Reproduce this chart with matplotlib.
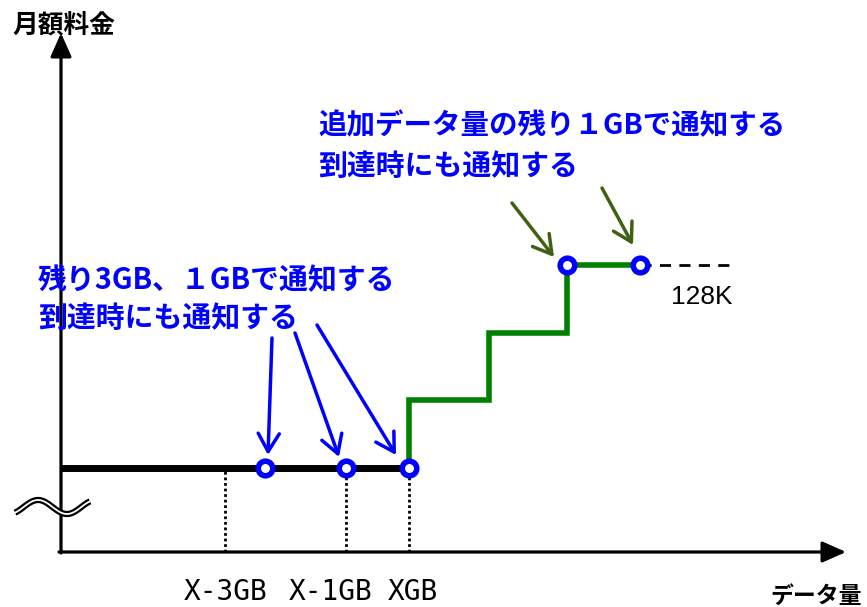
import numpy as np
import matplotlib
matplotlib.use('Agg')
import matplotlib.pyplot as plt

plt.rcParams['font.family'] = ['Noto Sans CJK JP', 'DejaVu Sans']

# data (origin at the axes crossing)
base_fee = 84
tick_pos = [164, 285, 348]
tick_labels = ['X-3GB', 'X-1GB', 'XGB']
step_x = [348, 348, 428, 428, 506, 506, 579]
step_y = [84, 152, 152, 219, 219, 287, 287]
dash_x = [579, 674]
dash_y = [287, 287]
notify_x = [204, 285, 348, 506, 579]
notify_y = [84, 84, 84, 287, 287]

blue_arrows = [((211, 214), (207, 97)), ((234, 219), (278, 95)), ((256, 227), (335, 97))]
green_arrows = [((451, 349), (493, 295)), ((541, 364), (572, 307))]

blue = '#0000ff'
green = '#008000'
olive = '#3f6212'

fig = plt.figure(figsize=(8.67, 6.07), dpi=100)
ax = fig.add_axes([0, 0, 1, 1])
ax.set_xlim(-61, 806)
ax.set_ylim(-55, 552)
ax.axis('off')

# axes with arrow heads
ax.annotate('', xy=(0, 519), xytext=(0, -1),
            arrowprops=dict(arrowstyle='-|>,head_length=0.9,head_width=0.4', lw=2.3,
                            color='black', shrinkA=0, shrinkB=0, mutation_scale=16))
ax.annotate('', xy=(785, 0), xytext=(-2, 0),
            arrowprops=dict(arrowstyle='-|>,head_length=0.9,head_width=0.4', lw=2.3,
                            color='black', shrinkA=0, shrinkB=0, mutation_scale=16))

# wavy break mark
t = np.linspace(-0.3 * np.pi, 2.3 * np.pi, 100)
wx = np.linspace(-46, 29, 100)
wy = 45 + 7 * np.sin(t)
ax.plot(wx, wy, color='black', lw=4.5, solid_capstyle='butt', zorder=3)
ax.plot(wx, wy, color='white', lw=1.3, zorder=4)

# dotted guides
for x in tick_pos:
    ax.plot([x, x], [0, base_fee], color='black', lw=2, ls=(0, (1, 1)), zorder=2)

# base fee line
ax.plot([0, tick_pos[-1]], [base_fee, base_fee], color='black', lw=5,
        solid_capstyle='butt', zorder=5)

# step line after XGB
ax.plot(step_x, step_y, color=green, lw=4, solid_joinstyle='miter', zorder=5)
ax.plot(dash_x, dash_y, color='black', lw=2, ls=(0, (4, 3)), zorder=4)

# notification points
ax.plot(notify_x, notify_y, 'o', ms=10.5, mfc='white', mec=blue, mew=4, zorder=6)

for (x0, y0), (x1, y1) in blue_arrows:
    ax.annotate('', xy=(x1, y1), xytext=(x0, y0),
                arrowprops=dict(arrowstyle='->,head_length=0.65,head_width=0.38', lw=2.5,
                                color=blue, shrinkA=0, shrinkB=0, mutation_scale=20))
for (x0, y0), (x1, y1) in green_arrows:
    ax.annotate('', xy=(x1, y1), xytext=(x0, y0),
                arrowprops=dict(arrowstyle='->,head_length=0.65,head_width=0.38', lw=2.5,
                                color=olive, shrinkA=0, shrinkB=0, mutation_scale=20))

# texts
ax.text(-49, 527, '月額料金', fontsize=18.5, fontweight='bold', va='center', ha='left')
ax.text(709, -44, 'データ量', fontsize=16.5, fontweight='bold', va='center', ha='left')
ax.text(257, 426, '追加データ量の残り１GBで通知する', fontsize=20.5, fontweight='bold',
        color=blue, va='center', ha='left')
ax.text(257, 386, '到達時にも通知する', fontsize=20.8, fontweight='bold',
        color=blue, va='center', ha='left')
ax.text(-23, 272, '残り3GB、１GBで通知する', fontsize=20.8, fontweight='bold',
        color=blue, va='center', ha='left')
ax.text(-23, 234, '到達時にも通知する', fontsize=20.8, fontweight='bold',
        color=blue, va='center', ha='left')
for x, lab in zip([165, 270, 352], tick_labels):
    ax.text(x, -40, lab, fontsize=20, va='center', ha='center', family='DejaVu Sans Mono')
ax.text(641, 255, '128K', fontsize=19, va='center', ha='center', family='Liberation Sans')

fig.savefig('out.png', dpi=100)
